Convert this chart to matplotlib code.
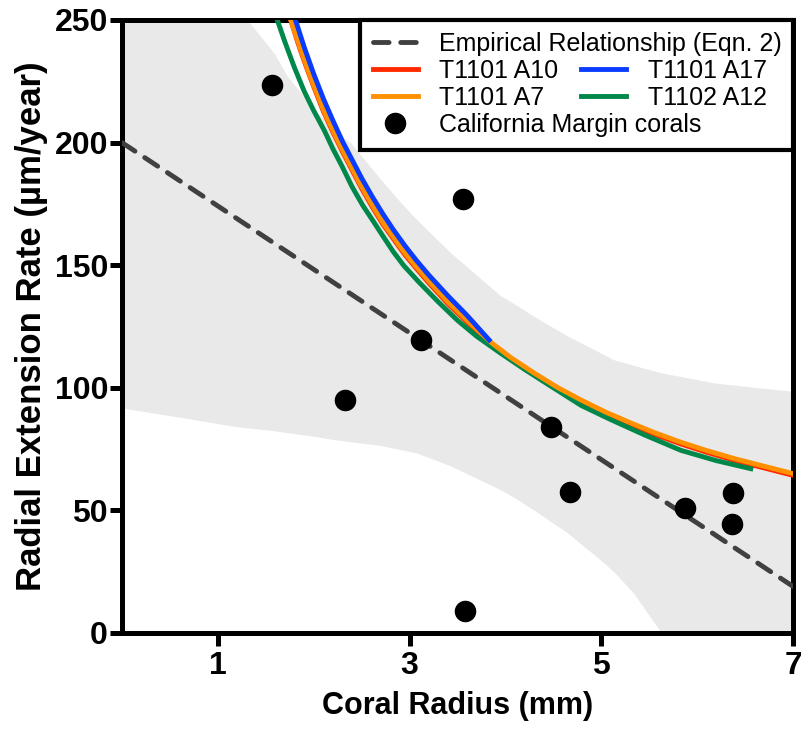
import matplotlib.pyplot as plt
from matplotlib.patches import Rectangle

# coral data
radius_pts = [1.56, 2.33, 3.12, 3.56, 3.58, 4.48, 4.67, 5.87, 6.37, 6.36]
rate_pts = [223.5, 95.0, 119.5, 177.0, 9.0, 84.0, 57.5, 51.0, 57.1, 44.5]

# empirical relationship (eqn. 2) end points
emp_x = [0.0, 7.0]
emp_y = [200.0, 19.0]

# prediction band
band_x = [0.0, 0.7, 1.17, 1.31, 1.59, 1.73, 2.0, 2.21, 2.39, 2.7, 2.91, 3.08, 3.43, 3.95,
          4.1, 4.3, 4.65, 5.0, 5.13, 5.34, 5.62, 6.18, 6.6, 7.0]
band_hi = [285, 265, 255, 250, 236.4, 226.9, 214, 205, 199.7, 185, 175.5, 168.4, 155, 137.5,
           134, 129, 121, 114, 111.3, 109, 106, 101.8, 100, 98.4]
band_lo = [91.6, 87.2, 84.1, 83.5, 82.3, 81.5, 80.1, 78.7, 77.8, 76.3, 74.6, 73.2, 68, 58.3,
           55, 50, 40.7, 29.5, 25, 16.2, 0.5, -25, -45, -65]

# model curves
a7_x = [1.76, 1.83, 1.9, 2.0, 2.1, 2.2, 2.3, 2.4, 2.5, 2.61, 2.72, 2.83, 2.95, 3.07, 3.2,
        3.4, 3.6, 3.85, 4.05, 4.3, 4.55, 4.79, 5.05, 5.3, 5.55, 5.83, 6.1, 6.4, 6.7, 7.0]
a7_y = [250, 242, 234, 223.5, 213.5, 205, 197, 189.5, 182, 174.5, 167.5, 161.5, 155, 149.4, 143.5,
        135, 127.5, 118.5, 112.5, 106, 100, 95, 90, 85.8, 81.8, 77.8, 74.4, 71, 68, 65]
a10_x = a7_x
a10_y = [250, 241.3, 233.3, 222.8, 212.8, 204.3, 196.3, 188.8, 181.3, 173.8, 166.8, 160.8, 154.3,
         148.7, 142.8, 134.3, 126.8, 117.8, 111.8, 105.3, 99.3, 94.3, 89.3, 85.1, 81.1, 77.1,
         73.7, 70.3, 67.3, 64.3]
a17_x = [1.81, 1.9, 2.0, 2.1, 2.2, 2.3, 2.4, 2.5, 2.61, 2.72, 2.83, 2.95, 3.07, 3.2, 3.4, 3.6, 3.83]
a17_y = [250, 239, 228, 218, 209, 200.5, 193, 185.5, 178, 171, 164.5, 158, 152, 146, 137.5, 129.5, 119.5]
a12_x = [1.62, 1.7, 1.8, 1.9, 2.0, 2.11, 2.2, 2.3, 2.4, 2.51, 2.62, 2.72, 2.83, 2.94, 3.1, 3.3,
         3.5, 3.7, 3.95, 4.2, 4.5, 4.79, 5.1, 5.45, 5.83, 6.2, 6.56]
a12_y = [250, 241, 230.5, 221, 213, 205, 197.5, 190, 182, 174.5, 168, 162, 155.5, 149.8, 143, 135,
         127.5, 121, 114.1, 107.5, 100, 92.8, 87, 80.8, 74.5, 70.3, 67]

plt.rcParams['font.family'] = ['Liberation Sans', 'DejaVu Sans']

fig = plt.figure(figsize=(8.01, 7.30), dpi=100)
ax = fig.add_axes([122/801, 97/730, 671/801, 613/730])

ax.fill_between(band_x, band_lo, band_hi, color='#e9e9e9', lw=0, zorder=1)
emp, = ax.plot(emp_x, emp_y, color='#404040', lw=3.5, dashes=(3.2, 2.4),
               dash_capstyle='round', zorder=3, label='Empirical Relationship (Eqn. 2)')
l10, = ax.plot(a10_x, a10_y, color='#ff2a00', lw=3.5, zorder=4, label='T1101 A10')
l7, = ax.plot(a7_x, a7_y, color='#ff9100', lw=3.5, zorder=5, label='T1101 A7')
l17, = ax.plot(a17_x, a17_y, color='#0a3cff', lw=3.5, zorder=6, label='T1101 A17')
l12, = ax.plot(a12_x, a12_y, color='#00884a', lw=3.5, zorder=4, label='T1102 A12')
pts, = ax.plot(radius_pts, rate_pts, 'o', color='black', ms=14.5, zorder=7,
               label='California Margin corals')

ax.set_xlim(0, 7)
ax.set_ylim(0, 250)
ax.set_xticks([1, 3, 5, 7])
ax.set_yticks([0, 50, 100, 150, 200, 250])
for s in ax.spines.values():
    s.set_linewidth(3.6)
ax.tick_params(width=3.6, length=9, labelsize=23, direction='out')
ax.tick_params(axis='y', pad=1)
ax.tick_params(axis='x', pad=4)
for lab in ax.get_xticklabels() + ax.get_yticklabels():
    lab.set_fontweight('bold')

ax.set_xlabel('Coral Radius (mm)', fontsize=22, fontweight='bold', labelpad=7)
ax.set_ylabel('Radial Extension Rate (µm/year)', fontsize=25, fontweight='bold', labelpad=5)

# legend frame + two legends
frame = Rectangle((0.355, 0.788), 0.645, 0.212, transform=ax.transAxes,
                  facecolor='white', edgecolor='black', lw=3, zorder=8, clip_on=False)
ax.add_patch(frame)

leg1 = ax.legend(handles=[emp, l10, l7, pts], loc='upper left',
                 bbox_to_anchor=(0.37, 0.985), frameon=False, fontsize=18,
                 handlelength=1.8, handletextpad=0.85, labelspacing=0.12,
                 borderpad=0.1, borderaxespad=0)
leg1.set_zorder(9)
ax.add_artist(leg1)
leg2 = ax.legend(handles=[l17, l12], loc='upper left',
                 bbox_to_anchor=(0.681, 0.941), frameon=False, fontsize=18,
                 handlelength=1.8, handletextpad=0.85, labelspacing=0.12,
                 borderpad=0.1, borderaxespad=0)
leg2.set_zorder(9)

fig.savefig('out.png', dpi=100)
